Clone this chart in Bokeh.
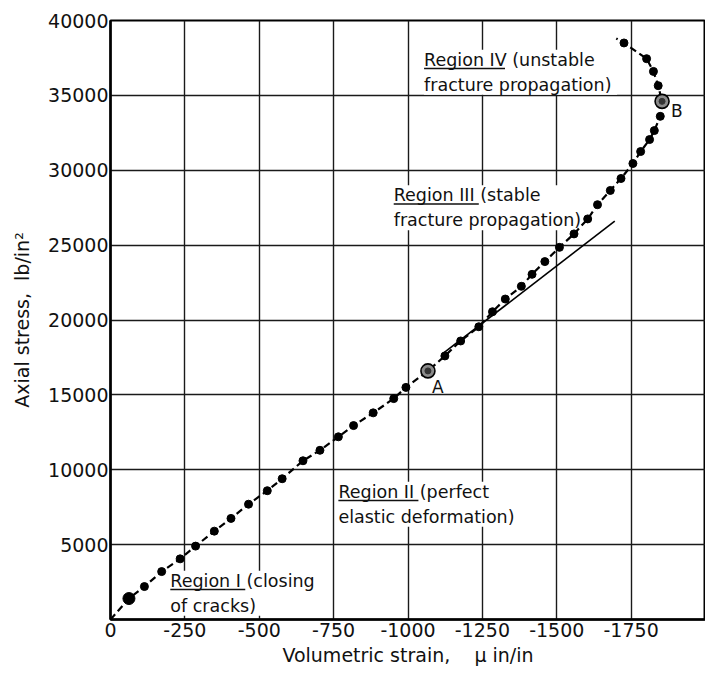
from bokeh.plotting import figure
from bokeh.models import Range1d, FixedTicker, Label
from bokeh.embed import file_html
from bokeh.resources import INLINE

# ---- data ----
strain = [-62, -114, -172, -234, -286, -349, -405, -464, -527, -577, -647, -704,
          -766, -817, -883, -952, -993, -1067, -1124, -1177, -1238, -1284, -1327,
          -1381, -1417, -1460, -1509, -1558, -1604, -1637, -1680, -1716, -1756,
          -1782, -1812, -1828, -1848, -1854, -1841, -1825, -1802, -1726]
stress = [1400, 2200, 3200, 4050, 4900, 5900, 6750, 7700, 8600, 9400, 10600, 11300,
          12200, 12950, 13800, 14750, 15500, 16600, 17600, 18600, 19550, 20550, 21400,
          22250, 23050, 23900, 24850, 25750, 26750, 27700, 28650, 29450, 30450,
          31250, 32050, 32650, 33600, 34600, 35650, 36600, 37450, 38500]
curve_start = (0, 0)
curve_end = (-1700, 38800)
region1_point = (-62, 1400)
point_A = (-1067, 16600)
point_B = (-1854, 34600)
tangent_x = [-1120, -1695]
tangent_y = [17800, 26600]

x_ticks = [0, -250, -500, -750, -1000, -1250, -1500, -1750]
x_tick_labels = ["0", "-250", "-500", "-750", "-1000", "-1250", "-1500", "-1750"]
y_ticks = [0, 5000, 10000, 15000, 20000, 25000, 30000, 35000, 40000]
y_tick_labels = ["", "5000", "10000", "15000", "20000", "25000", "30000", "35000", "40000"]

regions = [
    ("Region I (closing\nof cracks)", -201, 3250, 252),
    ("Region II (perfect\nelastic deformation)", -766, 9200, 269),
    ("Region III (stable\nfracture propagation)", -952, 29000, 286),
    ("Region IV (unstable\nfracture  propagation)", -1054, 38050, 272),
]

FONT = "DejaVu Sans"

p = figure(width=705, height=668, output_backend="svg", toolbar_location=None,
           x_range=Range1d(0, -2000), y_range=Range1d(0, 40000),
           min_border_left=110, min_border_right=0, min_border_top=20, min_border_bottom=48)
p.background_fill_color = "white"
p.border_fill_color = "white"
p.outline_line_color = "black"
p.outline_line_width = 2

p.xaxis.ticker = FixedTicker(ticks=x_ticks)
p.yaxis.ticker = FixedTicker(ticks=y_ticks)
p.xaxis.major_label_overrides = {t: l for t, l in zip(x_ticks, x_tick_labels)}
p.yaxis.major_label_overrides = {t: l for t, l in zip(y_ticks, y_tick_labels)}
for ax in (p.xaxis, p.yaxis):
    ax.axis_line_width = 2.5
    ax.axis_line_color = "black"
    ax.major_tick_out = 0
    ax.major_tick_in = 0
    ax.minor_tick_out = 0
    ax.minor_tick_in = 0
    ax.major_label_text_font = FONT
    ax.major_label_text_font_size = "19px"
    ax.major_label_text_color = "#111"
    ax.axis_label_text_font = FONT
    ax.axis_label_text_font_size = "19px"
    ax.axis_label_text_font_style = "normal"
    ax.axis_label_text_color = "#111"
p.xaxis.major_label_standoff = 3
p.yaxis.major_label_standoff = 2
p.xaxis.axis_label_standoff = 4
p.yaxis.axis_label_standoff = 12
p.xaxis.axis_label = "Volumetric strain,\u00a0\u00a0\u00a0\u00a0\u03bc in/in"
p.yaxis.axis_label = "Axial stress,\u00a0\u00a0lb/in\u00b2"

p.grid.grid_line_color = "#1a1a1a"
p.grid.grid_line_width = 1.4
p.grid.grid_line_alpha = 1.0

# region labels (white boxes hide the grid, drawn below the data)
for text, lx, ly, ulen in regions:
    lab = Label(x=lx, y=ly, text=text, text_font=FONT, text_font_size="17.5px",
                text_color="#111", text_align="left", text_baseline="top",
                text_line_height=1.25,
                background_fill_color="white", background_fill_alpha=1.0,
                level="underlay")
    p.add_layout(lab)

# underlines below the "Region ..." heads
ul_x0 = [r[1] for r in regions]
ul_x1 = [r[1] - r[3] for r in regions]
ul_y = [r[2] - 1250 for r in regions]
p.segment(x0=ul_x0, y0=ul_y, x1=ul_x1, y1=ul_y, line_color="#111", line_width=1.5)

# tangent (linear elastic) line
p.line(tangent_x, tangent_y, line_color="black", line_width=1.6)

# dashed curve through the data
cx = [curve_start[0]] + strain + [curve_end[0]]
cy = [curve_start[1]] + stress + [curve_end[1]]
p.line(cx, cy, line_color="black", line_width=2.2, line_dash="7 4")

# data points
p.scatter(strain, stress, size=8, marker="circle", fill_color="black", line_color="black")
p.scatter([region1_point[0]], [region1_point[1]], size=12, marker="circle",
          fill_color="black", line_color="black")
for pt in (point_A, point_B):
    p.scatter([pt[0]], [pt[1]], size=14, marker="circle", fill_color="#8a8a8a",
              line_color="black", line_width=1.6)
    p.scatter([pt[0]], [pt[1]], size=6, marker="circle", fill_color="#333",
              line_color="#333")

p.add_layout(Label(x=point_A[0], y=point_A[1], text="A", x_offset=4, y_offset=-6,
                   text_font=FONT, text_font_size="17px", text_color="#111",
                   text_align="left", text_baseline="top"))
p.add_layout(Label(x=point_B[0], y=point_B[1], text="B", x_offset=9, y_offset=0,
                   text_font=FONT, text_font_size="17px", text_color="#111",
                   text_align="left", text_baseline="top"))

open("out.html", "w").write(file_html(p, INLINE))
